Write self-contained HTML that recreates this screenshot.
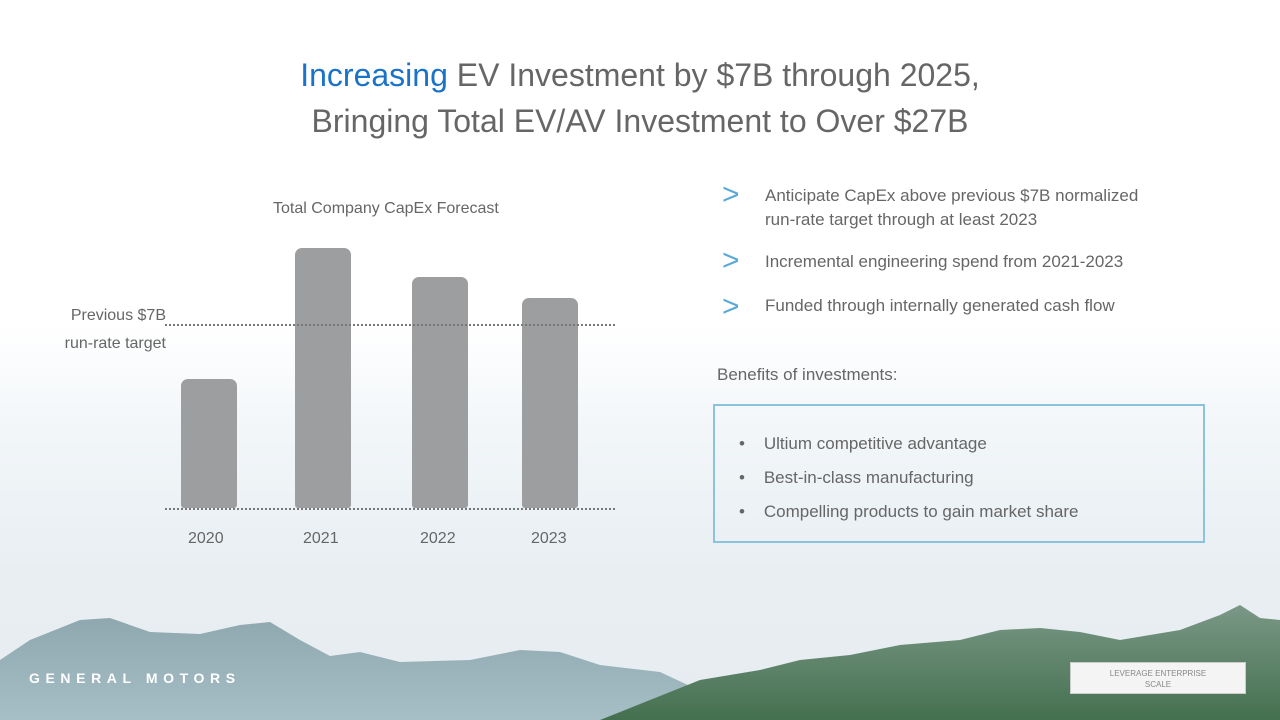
<!DOCTYPE html>
<html><head><meta charset="utf-8"><style>
body{margin:0;width:1280px;height:720px;overflow:hidden;position:relative;font-family:"Liberation Sans",sans-serif;
background:linear-gradient(180deg,#fff 0%,#fff 45%,#f2f6f9 60%,#e8eef2 80%,#e6ecef 100%);}
.t{position:absolute;white-space:nowrap;color:#666}
.bar{position:absolute;background:#9d9e9f;border-radius:7px 7px 3px 3px;width:56px}
.dot{position:absolute;height:0;border-top:2px dotted #777}
.gt{position:absolute;color:#5aa9d6;font-size:30px;font-weight:normal}
</style></head><body>
<svg style="position:absolute;left:0;top:0" width="1280" height="720">
<defs><linearGradient id="m" x1="0" y1="0" x2="0" y2="1"><stop offset="0" stop-color="#8fa8b0"/><stop offset="1" stop-color="#a6bec6"/></linearGradient>
<linearGradient id="f" x1="0" y1="0" x2="0" y2="1"><stop offset="0" stop-color="#7a9886"/><stop offset="1" stop-color="#44704f"/></linearGradient></defs>
<path d="M0,660 L30,640 L80,620 L110,618 L150,632 L200,634 L240,625 L270,622 L300,640 L330,656 L360,652 L400,662 L470,660 L520,650 L560,652 L600,665 L660,672 L720,700 L720,720 L0,720Z" fill="url(#m)"/>
<path d="M600,720 L650,700 L700,680 L760,670 L800,660 L850,655 L900,645 L960,640 L1000,630 L1040,628 L1080,632 L1120,640 L1180,630 L1220,615 L1240,605 L1260,618 L1280,620 L1280,720Z" fill="url(#f)"/>
</svg>
<div class="t" style="left:0;width:1280px;text-align:center;top:52px;font-size:32px;line-height:46px;color:#666">
<span style="color:#1a73c8">Increasing</span> EV Investment by $7B through 2025,<br>Bringing Total EV/AV Investment to Over $27B</div>
<div class="t" style="left:273px;top:200px;font-size:16px">Total Company CapEx Forecast</div>
<div class="t" style="left:50px;top:302px;font-size:16px;line-height:28px;text-align:right;width:116px">Previous $7B<br>run-rate target</div>
<div class="bar" style="left:181px;top:379px;height:129px"></div>
<div class="bar" style="left:295px;top:248px;height:260px"></div>
<div class="bar" style="left:412px;top:277px;height:231px"></div>
<div class="bar" style="left:522px;top:298px;height:210px"></div>
<div class="dot" style="left:165px;width:450px;top:324px"></div>
<div class="dot" style="left:165px;width:450px;top:508px"></div>
<div class="t" style="left:188px;top:530px;font-size:16px">2020</div>
<div class="t" style="left:303px;top:530px;font-size:16px">2021</div>
<div class="t" style="left:420px;top:530px;font-size:16px">2022</div>
<div class="t" style="left:531px;top:530px;font-size:16px">2023</div>
<div class="gt" style="left:722px;top:178px">&gt;</div>
<div class="gt" style="left:722px;top:244px">&gt;</div>
<div class="gt" style="left:722px;top:290px">&gt;</div>
<div class="t" style="left:765px;top:184px;font-size:17px;line-height:24px">Anticipate CapEx above previous $7B normalized<br>run-rate target through at least 2023</div>
<div class="t" style="left:765px;top:252px;font-size:17px">Incremental engineering spend from 2021-2023</div>
<div class="t" style="left:765px;top:296px;font-size:17px">Funded through internally generated cash flow</div>
<div class="t" style="left:717px;top:365px;font-size:17px">Benefits of investments:</div>
<div style="position:absolute;left:713px;top:404px;width:488px;height:135px;border:2px solid #8cc3dc"></div>
<div class="t" style="left:739px;top:427px;font-size:17px;line-height:34px">•&nbsp;&nbsp;&nbsp;&nbsp;Ultium competitive advantage<br>•&nbsp;&nbsp;&nbsp;&nbsp;Best-in-class manufacturing<br>•&nbsp;&nbsp;&nbsp;&nbsp;Compelling products to gain market share</div>
<div class="t" style="left:29px;top:670px;font-size:14px;letter-spacing:5.6px;color:#fff;font-weight:bold">GENERAL MOTORS</div>
<div style="position:absolute;left:1070px;top:662px;width:176px;height:32px;background:#f4f4f4;border:1px solid #ccc;color:#888;font-size:8px;text-align:center;line-height:11px;padding-top:5px;box-sizing:border-box">LEVERAGE ENTERPRISE<br>SCALE</div>
</body></html>
